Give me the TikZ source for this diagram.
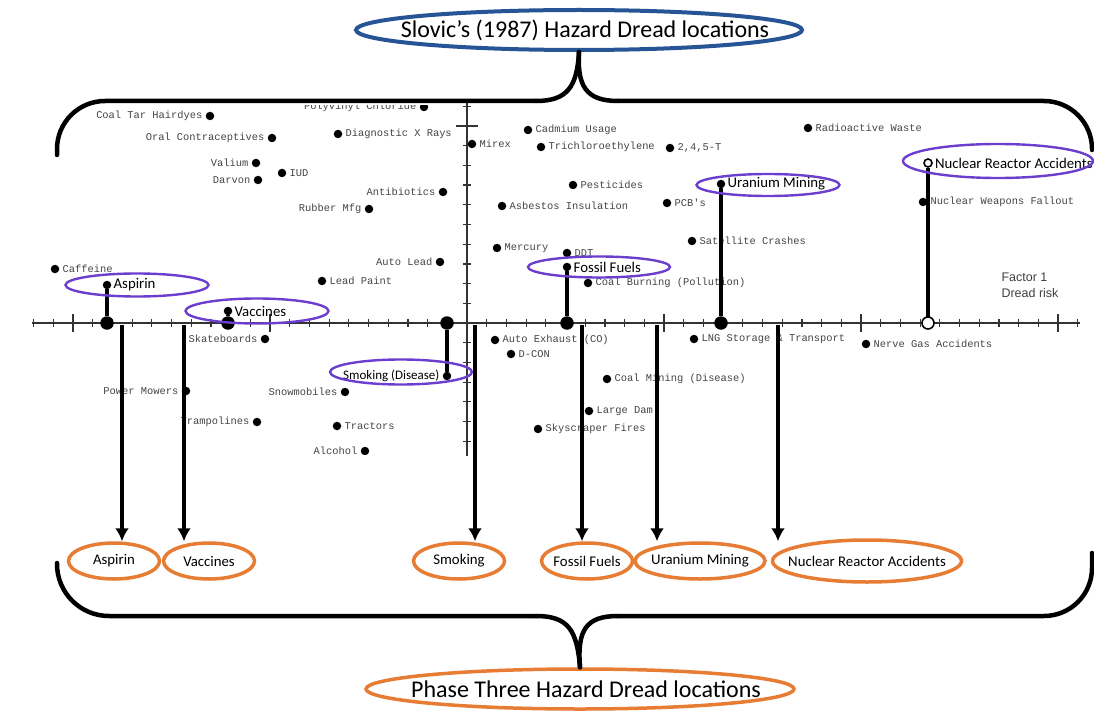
\documentclass[tikz,border=0pt]{standalone}
\usepackage{fontspec}
\setmainfont{Carlito}
\newfontfamily\scanfont{Liberation Mono}
\newfontfamily\axisfont{Liberation Sans}
\usetikzlibrary{shapes.geometric,arrows.meta}
\definecolor{slovicblue}{RGB}{38,84,148}
\definecolor{phaseorange}{RGB}{231,125,52}
\definecolor{markpurple}{RGB}{108,62,205}
\definecolor{scangray}{RGB}{68,68,68}

\tikzset{
  hazard/.style={circle,fill=black,inner sep=0pt,minimum size=8.5pt},
  axisdot/.style={circle,fill=black,inner sep=0pt,minimum size=13.5pt},
  openmark/.style={circle,draw=black,fill=white,line width=1.6pt,inner sep=0pt,minimum size=#1},
  scan/.style={font=\scanfont\fontsize{10.4}{10.4}\selectfont,text=scangray,inner sep=0pt},
  pick/.style={font=\fontsize{14.8}{15}\selectfont,text=black,inner sep=0pt},
  ring/.style={ellipse,draw=markpurple,line width=2.4pt,inner sep=0pt},
  % fixed-size ellipse; its caption sits centred as a label so the outline never grows
  phasering/.style 2 args={ellipse,draw=phaseorange,line width=3.5pt,inner sep=0pt,
    minimum width=#1,minimum height=36pt,
    label={[font=\fontsize{14.8}{15}\selectfont,inner sep=0pt]center:#2}},
  heading/.style n args={3}{ellipse,draw=#1,inner sep=0pt,minimum width=#2,minimum height=40pt,
    label={[font=\fontsize{24}{26}\selectfont,inner sep=0pt,xshift=6pt]center:#3}},
  stem/.style={line width=4pt},
  drop/.style={line width=4pt,-{Latex[length=13pt,width=14pt]}},
  brace/.style={line width=4.5pt,line cap=round},
  axisline/.style={line width=1.6pt,draw=black!80},
  tick/.style={line width=1.2pt,draw=black!80},
}

\begin{document}
\begin{tikzpicture}[x=1pt,y=-1pt]
\useasboundingbox (0,0) rectangle (1094,711);

% ---------- scatter plot of hazards (Factor 1: dread risk) ----------
\draw[axisline] (467,101) -- (467,456);
\begin{scope}
  \clip (30,105.5) rectangle (1086,454);
  \draw[axisline] (32,323) -- (1080,323);
  \foreach \k in {-22,...,31}
    \draw[tick] ({467+19.7*\k},319) -- ({467+19.7*\k},327);
  \foreach \k in {-20,-10,10,20,30}
    \draw[tick] ({467+19.7*\k},314) -- ({467+19.7*\k},332);
  \foreach \k in {-11,...,7}
    \draw[tick] (463,{323+19.7*\k}) -- (471,{323+19.7*\k});
  \draw[tick] (456,126) -- (478,126);

  % hazards
  \foreach \n/\x/\y/\s/\t in {
      coaltar/210/116/left/Coal Tar Hairdyes,
      oralc/272/138/left/Oral Contraceptives,
      diagx/338/134/right/Diagnostic X Rays,
      pvc/424/107/left/Polyvinyl Chloride,
      valium/256/163/left/Valium,
      darvon/258/180/left/Darvon,
      iud/282/173/right/IUD,
      antib/443/192/left/Antibiotics,
      rubber/369/209/left/Rubber Mfg,
      autolead/440/262/left/Auto Lead,
      leadpaint/322/281/right/Lead Paint,
      caffeine/55/269/right/Caffeine,
      skate/265/339/left/Skateboards,
      mowers/186/391/left/Power Mowers,
      snow/345/392/left/Snowmobiles,
      tramp/257/422/left/Trampolines,
      tractors/337/426/right/Tractors,
      alcohol/365/451/left/Alcohol,
      mirex/472/144/right/Mirex,
      cadmium/528/130/right/Cadmium Usage,
      trichlor/541/147/right/Trichloroethylene,
      twofour/670/148/right/{2,4,5-T},
      pestic/573/185/right/Pesticides,
      asbestos/502/206/right/Asbestos Insulation,
      pcb/667/203/right/PCB's,
      satellite/692/241/right/Satellite Crashes,
      mercury/497/248/right/Mercury,
      ddt/567/253/right/DDT,
      coalburn/588/283/right/Coal Burning (Pollution),
      radwaste/808/128/right/Radioactive Waste,
      nukeweap/923/202/right/Nuclear Weapons Fallout,
      autoexh/495/340/right/Auto Exhaust (CO),
      dcon/511/354/right/D-CON,
      coalmine/607/379/right/Coal Mining (Disease),
      dam/589/411/right/Large Dam,
      skyscr/538/429/right/Skyscraper Fires,
      lng/694/339/right/LNG Storage \& Transport,
      nerve/866/344/right/Nerve Gas Accidents}
    \node[hazard,label={[scan,label distance=3pt]\s:\t}] (\n) at (\x,\y) {};
\end{scope}

\node[font=\axisfont\fontsize{12.5}{16}\selectfont,text=black!75,align=left,anchor=west]
  (factor) at (998,285) {Factor 1\\Dread risk};

% ---------- hazards picked out, with their place on the dread axis ----------
\node[hazard,label={[pick,label distance=2pt]right:Aspirin}] (asp) at (107,285) {};
\node[hazard,label={[pick,label distance=2pt]right:Vaccines}] (vac) at (228,311) {};
\node[hazard,label={[pick,font=\fontsize{13}{13}\selectfont,label distance=3pt]left:Smoking (Disease)}] (smk) at (447,376) {};
\node[hazard,label={[pick,label distance=2pt]right:Fossil Fuels}] (fos) at (567,267) {};
\node[hazard,label={[pick,label distance=2pt]right:Uranium Mining}] (ura) at (721,184) {};
\node[openmark=8pt,label={[pick,label distance=2pt]right:Nuclear Reactor Accidents}] (nra) at (928,163) {};

\node[axisdot] (aspAx) at (107,323) {};
\node[axisdot] (vacAx) at (228,323) {};
\node[axisdot] (smkAx) at (447,323) {};
\node[axisdot] (fosAx) at (567,323) {};
\node[axisdot] (uraAx) at (721,323) {};

\draw[stem] (asp) -- (aspAx);
\draw[stem] (vac) -- (vacAx);
\draw[stem] (smk) -- (smkAx);
\draw[stem] (fos) -- (fosAx);
\draw[stem] (ura) -- (uraAx);
\draw[stem] (nra.south) -- (928,317);
\node[openmark=12pt] (nraAx) at (928,323) {};

\node[ring,minimum width=143pt,minimum height=23pt] (aspRing) at (137,285) {};
\node[ring,minimum width=143pt,minimum height=25pt] (vacRing) at (257,311) {};
\node[ring,minimum width=142pt,minimum height=25pt] (smkRing) at (401,372) {};
\node[ring,minimum width=142pt,minimum height=21pt] (fosRing) at (599,267) {};
\node[ring,minimum width=143pt,minimum height=22pt] (uraRing) at (768,185) {};
\node[ring,minimum width=190pt,minimum height=34pt] (nraRing) at (998,161) {};

% ---------- headings ----------
\node[heading={slovicblue}{446pt}{Slovic’s (1987) Hazard Dread locations},line width=4pt] (slovic) at (579,30) {};
\node[heading={phaseorange}{428pt}{Phase Three Hazard Dread locations},line width=3.5pt] (phase) at (580,689) {};

% ---------- braces ----------
\draw[brace,rounded corners=48] (57,155) -- (57,101) -- (536,101);
\draw[brace] (536,101) .. controls (568,101) and (577,86) .. (slovic.south);
\draw[brace] (slovic.south) .. controls (577,86) and (586,101) .. (618,101);
\draw[brace,rounded corners=48] (618,101) -- (1092,101) -- (1092,150);

\draw[brace,rounded corners=52] (57,563) -- (57,616) -- (536,616);
\draw[brace] (536,616) .. controls (568,616) and (577,630) .. (phase.north);
\draw[brace] (phase.north) .. controls (577,630) and (586,616) .. (618,616);
\draw[brace,rounded corners=48] (618,616) -- (1092,616) -- (1092,553);

% ---------- phase three locations ----------
\node[phasering={91pt}{Aspirin}] (p3asp) at (114,561) {};
\node[phasering={91pt}{Vaccines}] (p3vac) at (209,561) {};
\node[phasering={91pt}{Smoking}] (p3smk) at (459,561) {};
\node[phasering={91pt}{Fossil Fuels}] (p3fos) at (587,561) {};
\node[phasering={130pt}{Uranium Mining}] (p3ura) at (700,561) {};
\node[phasering={189pt}{Nuclear Reactor Accidents},minimum height=42pt] (p3nra) at (867,561) {};

\coordinate (dAsp) at (122,325);
\coordinate (dVac) at (184,325);
\coordinate (dSmk) at (475,325);
\coordinate (dFos) at (582,325);
\coordinate (dUra) at (657,325);
\coordinate (dNra) at (778,325);

\draw[drop] (dAsp) -- (dAsp |- p3asp.north);
\draw[drop] (dVac) -- (dVac |- p3vac.north);
\draw[drop] (dSmk) -- (dSmk |- p3smk.north);
\draw[drop] (dFos) -- (dFos |- p3fos.north);
\draw[drop] (dUra) -- (dUra |- p3ura.north);
\draw[drop] (dNra) -- (dNra |- p3ura.north);
\end{tikzpicture}
\end{document}
